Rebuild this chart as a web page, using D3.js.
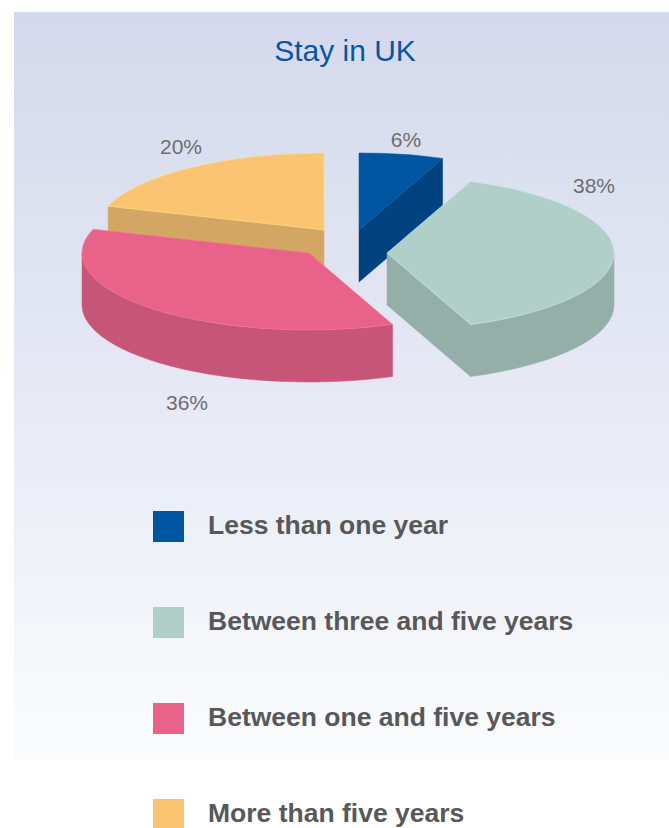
<!DOCTYPE html>
<html>
<head>
<meta charset="utf-8">
<script src="https://cdn.jsdelivr.net/npm/d3@7"></script>
<style>
  html, body { margin: 0; padding: 0; background: #ffffff; }
  svg { display: block; }
</style>
</head>
<body>
<svg id="chart" width="669" height="828"></svg>
<script>
// ---- data ----
const title = "Stay in UK";
const categories = [
  "Less than one year",
  "Between three and five years",
  "Between one and five years",
  "More than five years"
];
const shares = [6, 38, 36, 20];
const shareLabels = ["6%", "38%", "36%", "20%"];

// ---- styling ----
const topColors  = ["#0055a1", "#b0cfc8", "#e9628a", "#fbc473"];
const sideColors = ["#00427f", "#94aea8", "#c65577", "#d4a663"];

// ---- layout ----
const W = 669, H = 828;
const pie3d = { cx: 341, cy: 241.5, rx: 227, ry: 77, depth: 52 };
// how far each slice is pulled out from the common centre (screen px)
const sliceShift = [[18, -11.5], [46, 11.5], [-32, 11.5], [-17, -11.5]];
// label placement relative to the rim point at the slice's mid angle
const labelNudge = [[4.5, -7.4], [-20, -60], [33.4, 100.9], [-9.6, -13.7]];

const svg = d3.select("#chart");

// background panel with soft vertical gradient
const defs = svg.append("defs");
const grad = defs.append("linearGradient")
  .attr("id", "panelGrad").attr("x1", 0).attr("y1", 0).attr("x2", 0).attr("y2", 1);
grad.append("stop").attr("offset", "0%").attr("stop-color", "#d3d9ec");
grad.append("stop").attr("offset", "50%").attr("stop-color", "#e6e9f4");
grad.append("stop").attr("offset", "100%").attr("stop-color", "#fbfcfd");

svg.append("rect")
  .attr("x", 14).attr("y", 12)
  .attr("width", W - 14).attr("height", 748)
  .attr("fill", "url(#panelGrad)");

// title
svg.append("text")
  .attr("x", 345).attr("y", 61)
  .attr("text-anchor", "middle")
  .attr("font-family", "'Liberation Sans', Arial, sans-serif")
  .attr("font-size", 30)
  .attr("fill", "#0a55a0")
  .text(title);

// ---- 3D pie geometry ----
const arcs = d3.pie().sort(null).startAngle(0).endAngle(2 * Math.PI)(shares);

// project an angle (clockwise from north) onto the tilted ellipse
function rim(c, a, dz = 0) {
  return [c[0] + pie3d.rx * Math.sin(a), c[1] - pie3d.ry * Math.cos(a) + dz];
}
function centreOf(i) {
  return [pie3d.cx + sliceShift[i][0], pie3d.cy + sliceShift[i][1]];
}

function topPath(i, d) {
  const c = centreOf(i);
  const p0 = rim(c, d.startAngle), p1 = rim(c, d.endAngle);
  const large = (d.endAngle - d.startAngle) > Math.PI ? 1 : 0;
  return `M${c[0]},${c[1]}L${p0[0]},${p0[1]}` +
    `A${pie3d.rx},${pie3d.ry} 0 ${large} 1 ${p1[0]},${p1[1]}Z`;
}

function outerWallPath(i, d) {
  // only the front half of the rim (90°..270°) faces the viewer
  const a0 = Math.max(d.startAngle, Math.PI / 2);
  const a1 = Math.min(d.endAngle, 3 * Math.PI / 2);
  if (a1 <= a0) return null;
  const c = centreOf(i), h = pie3d.depth;
  const t0 = rim(c, a0), t1 = rim(c, a1), b0 = rim(c, a0, h), b1 = rim(c, a1, h);
  return `M${t0[0]},${t0[1]}A${pie3d.rx},${pie3d.ry} 0 0 1 ${t1[0]},${t1[1]}` +
    `L${b1[0]},${b1[1]}A${pie3d.rx},${pie3d.ry} 0 0 0 ${b0[0]},${b0[1]}Z`;
}

function cutFacePath(i, a) {
  const c = centreOf(i), h = pie3d.depth;
  const t = rim(c, a), b = rim(c, a, h);
  return `M${c[0]},${c[1]}L${t[0]},${t[1]}L${b[0]},${b[1]}L${c[0]},${c[1] + h}Z`;
}

const pieG = svg.append("g");
const wallOrder = [3, 0, 1, 2];   // back slices first

function wall(i, dPath) {
  pieG.append("path")
    .attr("d", dPath)
    .attr("fill", sideColors[i])
    .attr("stroke", sideColors[i])
    .attr("stroke-width", 0.5)
    .attr("stroke-linejoin", "round");
}

wallOrder.forEach(i => {
  const d = arcs[i];
  const eps = 1e-6;
  // radial faces visible to the viewer
  if (Math.sin(d.startAngle) < -eps) wall(i, cutFacePath(i, d.startAngle));
  if (Math.sin(d.endAngle) > eps) wall(i, cutFacePath(i, d.endAngle));
  const w = outerWallPath(i, d);
  if (w) wall(i, w);
});

wallOrder.forEach(i => {
  pieG.append("path")
    .attr("d", topPath(i, arcs[i]))
    .attr("fill", topColors[i])
    .attr("stroke", d3.color(topColors[i]).brighter(0.35))
    .attr("stroke-width", 0.6)
    .attr("stroke-linejoin", "round");
});

// percentage labels
arcs.forEach((d, i) => {
  const mid = (d.startAngle + d.endAngle) / 2;
  const p = rim(centreOf(i), mid);
  svg.append("text")
    .attr("x", p[0] + labelNudge[i][0])
    .attr("y", p[1] + labelNudge[i][1])
    .attr("text-anchor", "middle")
    .attr("font-family", "'Liberation Sans', Arial, sans-serif")
    .attr("font-size", 21)
    .attr("fill", "#6e6e70")
    .text(shareLabels[i]);
});

// legend
const legend = svg.append("g");
categories.forEach((name, i) => {
  const y = 511 + i * 96;
  legend.append("rect")
    .attr("x", 153).attr("y", y)
    .attr("width", 31).attr("height", 31)
    .attr("fill", topColors[i]);
  legend.append("text")
    .attr("x", 208).attr("y", y + 23)
    .attr("font-family", "'Liberation Sans', Arial, sans-serif")
    .attr("font-weight", "bold")
    .attr("font-size", 26.5)
    .attr("fill", "#58585a")
    .text(name);
});
</script>
</body>
</html>
